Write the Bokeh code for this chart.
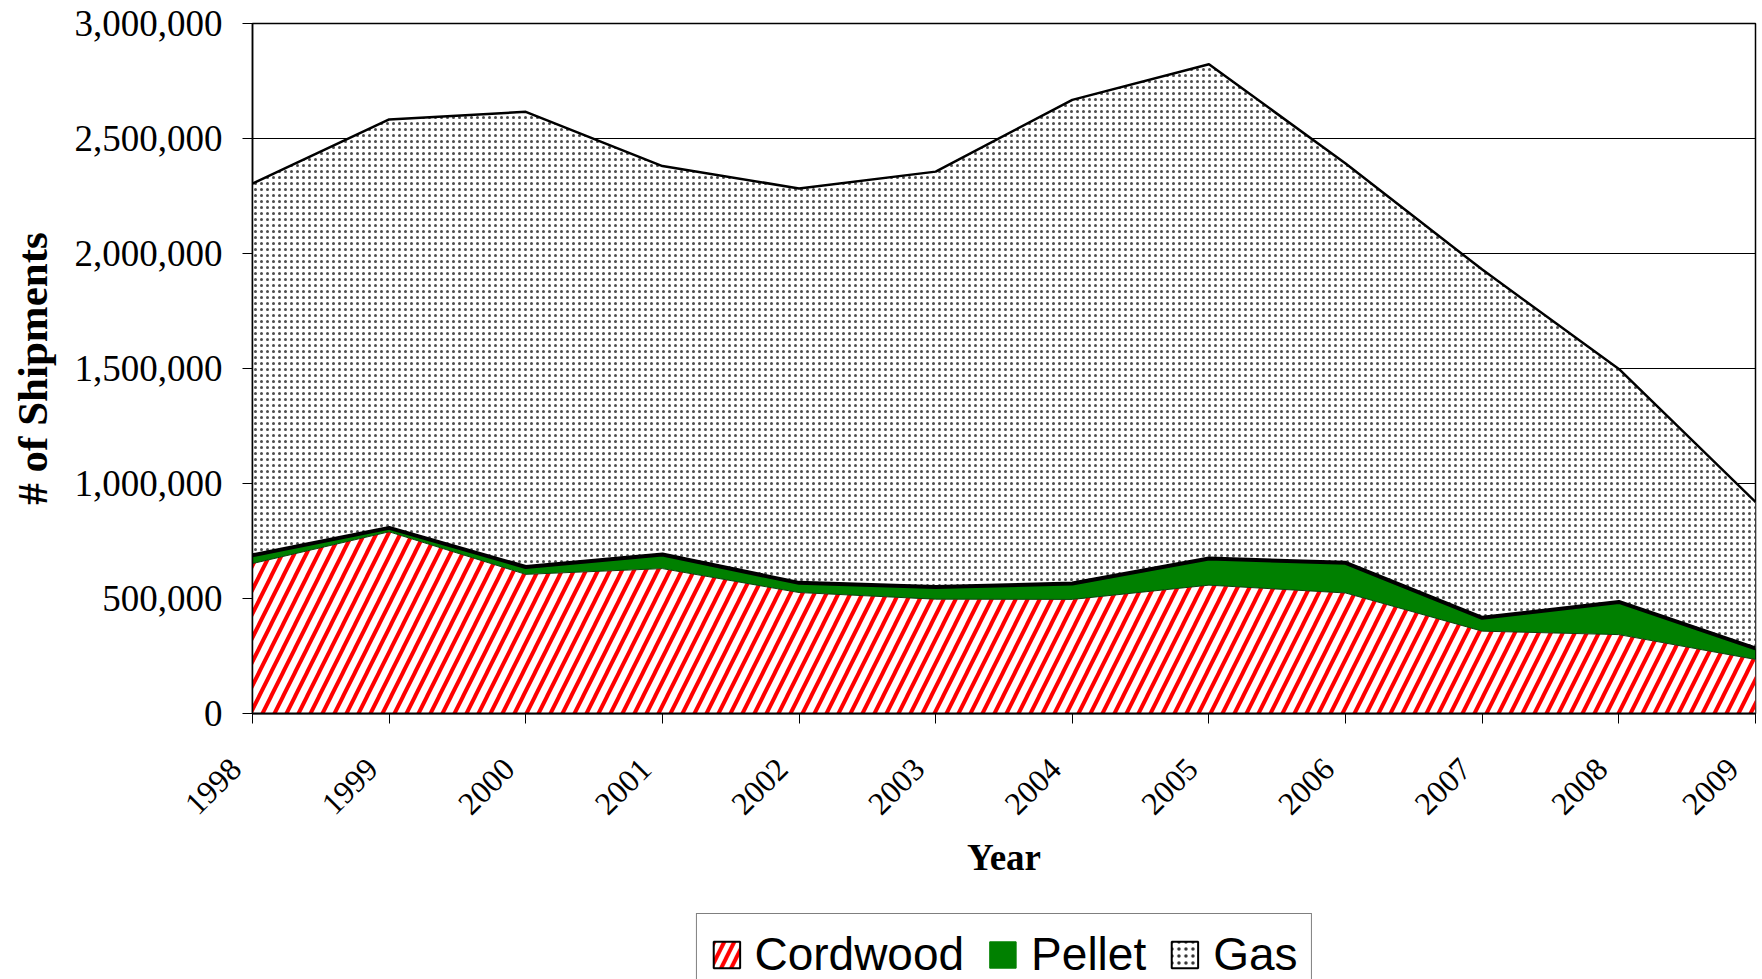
import math
import pandas as pd
from bokeh.plotting import figure
from bokeh.layouts import column
from bokeh.models import (ColumnDataSource, Legend, LegendItem, FixedTicker,
                          NumeralTickFormatter, Range1d)
from bokeh.embed import file_html
from bokeh.resources import INLINE

# ---- data ----
years = [1998, 1999, 2000, 2001, 2002, 2003, 2004, 2005, 2006, 2007, 2008, 2009]
cordwood = [652000, 790000, 605000, 630000, 526000, 497000, 496000, 558000, 524000, 358000, 343000, 235000]
pellet = [36000, 17000, 32000, 61000, 42000, 53000, 69000, 116000, 131000, 58000, 142000, 48000]
gas = [1616000, 1776000, 1979000, 1689000, 1715000, 1806000, 2103000, 2149000, 1736000, 1514000, 1013000, 637000]
y_ticks = [0, 500000, 1000000, 1500000, 2000000, 2500000, 3000000]
series_names = ["Cordwood", "Pellet", "Gas"]

df = pd.DataFrame({"year": years, "cordwood": cordwood, "pellet": pellet, "gas": gas})
df["zero"] = 0
df["c_top"] = df["cordwood"]
df["p_top"] = df["c_top"] + df["pellet"]
df["g_top"] = df["p_top"] + df["gas"]
src = ColumnDataSource(df)

SERIF = "Liberation Serif"
SANS = "Liberation Sans"
NBSP = "\u00a0"

RED_HATCH = dict(fill_color="white", hatch_pattern="right_diagonal_line", hatch_color="#FF0000")
DOT_HATCH = dict(fill_color="white", hatch_pattern="dot", hatch_color="black")

p = figure(width=1762, height=903, output_backend="svg", toolbar_location=None,
           x_range=Range1d(1998, 2009), y_range=Range1d(0, 3000000),
           min_border_left=252, min_border_right=7, min_border_top=23, min_border_bottom=190)
p.background_fill_color = "white"
p.border_fill_color = "white"
p.outline_line_color = "black"
p.outline_line_width = 1.5

# areas
p.varea(x="year", y1="p_top", y2="g_top", source=src, hatch_scale=6, hatch_weight=0.6,
        hatch_alpha=0.7, **DOT_HATCH)
p.varea(x="year", y1="c_top", y2="p_top", source=src, fill_color="#008000")
p.varea(x="year", y1="zero", y2="c_top", source=src, hatch_scale=24, hatch_weight=4, **RED_HATCH)

# outlines of the stacked areas
p.line(x="year", y="c_top", source=src, line_color="#0b3d0b", line_width=1)
p.line(x="year", y="p_top", source=src, line_color="black", line_width=4)
p.line(x="year", y="g_top", source=src, line_color="black", line_width=2.5)

# grid
p.xgrid.grid_line_color = None
p.ygrid.grid_line_color = "black"
p.ygrid.grid_line_width = 1
p.ygrid.ticker = FixedTicker(ticks=y_ticks)

# y axis
p.yaxis.ticker = FixedTicker(ticks=y_ticks)
p.yaxis.formatter = NumeralTickFormatter(format="0,0")
p.yaxis.axis_label = "# of Shipments"
p.yaxis.axis_label_text_font = SERIF
p.yaxis.axis_label_text_font_style = "bold"
p.yaxis.axis_label_text_font_size = "43px"
p.yaxis.axis_label_text_color = "black"
p.yaxis.axis_label_standoff = 16
p.yaxis.major_label_text_font = SERIF
p.yaxis.major_label_text_font_size = "37px"
p.yaxis.major_label_text_color = "black"
p.yaxis.major_label_standoff = 20
p.yaxis.major_tick_out = 10
p.yaxis.major_tick_in = 0
p.yaxis.minor_tick_line_color = None
p.yaxis.axis_line_color = "black"
p.yaxis.axis_line_width = 1.5
p.yaxis.major_tick_line_color = "black"

# x axis (labels padded so that they sit to the left of their ticks, as in the original)
p.xaxis.ticker = FixedTicker(ticks=years)
p.xaxis.major_label_overrides = {y: str(y) + NBSP * 3 for y in years}
p.xaxis.axis_label = "Year"
p.xaxis.axis_label_text_font = SERIF
p.xaxis.axis_label_text_font_style = "bold"
p.xaxis.axis_label_text_font_size = "37px"
p.xaxis.axis_label_text_color = "black"
p.xaxis.axis_label_standoff = 0
p.xaxis.major_label_text_font = SERIF
p.xaxis.major_label_text_font_size = "32px"
p.xaxis.major_label_text_color = "black"
p.xaxis.major_label_orientation = math.pi / 4
p.xaxis.major_label_standoff = 23
p.xaxis.major_tick_out = 10
p.xaxis.major_tick_in = 0
p.xaxis.minor_tick_line_color = None
p.xaxis.axis_line_color = "black"
p.xaxis.axis_line_width = 2
p.xaxis.major_tick_line_color = "black"

# ---- legend strip underneath the chart ----
lf = figure(width=1762, height=76, output_backend="svg", toolbar_location=None,
            x_range=Range1d(0, 1), y_range=Range1d(0, 1),
            x_axis_location=None, y_axis_location=None,
            min_border_left=252, min_border_right=7, min_border_top=0, min_border_bottom=0)
lf.outline_line_color = None
lf.grid.grid_line_color = None
lf.background_fill_color = "white"
lf.border_fill_color = "white"

# legend proxies: a single undefined (NaN) quad each, so nothing is drawn in the strip itself
proxy = ColumnDataSource(dict(l=[float("nan")], r=[float("nan")], t=[float("nan")], b=[float("nan")]))
lc = lf.quad(left="l", right="r", top="t", bottom="b", source=proxy,
             hatch_scale=20, hatch_weight=4, line_color="black", line_width=2, **RED_HATCH)
lp = lf.quad(left="l", right="r", top="t", bottom="b", source=proxy, fill_color="#008000",
             line_color="#008000", line_width=1)
lg = lf.quad(left="l", right="r", top="t", bottom="b", source=proxy,
             hatch_scale=7, hatch_weight=0.6, hatch_alpha=0.8, line_color="black", line_width=2,
             **DOT_HATCH)

legend = Legend(items=[LegendItem(label=series_names[0], renderers=[lc]),
                       LegendItem(label=series_names[1], renderers=[lp]),
                       LegendItem(label=series_names[2], renderers=[lg])],
                orientation="horizontal", location="top_center")
legend.label_text_font = SANS
legend.label_text_font_size = "46px"
legend.label_text_color = "black"
legend.glyph_width = 33
legend.glyph_height = 33
legend.label_standoff = 12
legend.spacing = 22
legend.padding = 13
legend.margin = 10
legend.border_line_color = "black"
legend.border_line_width = 1.2
legend.background_fill_color = "white"
legend.background_fill_alpha = 1
lf.add_layout(legend, "center")

layout = column(p, lf, spacing=0)
open("out.html", "w").write(file_html(layout, INLINE))
